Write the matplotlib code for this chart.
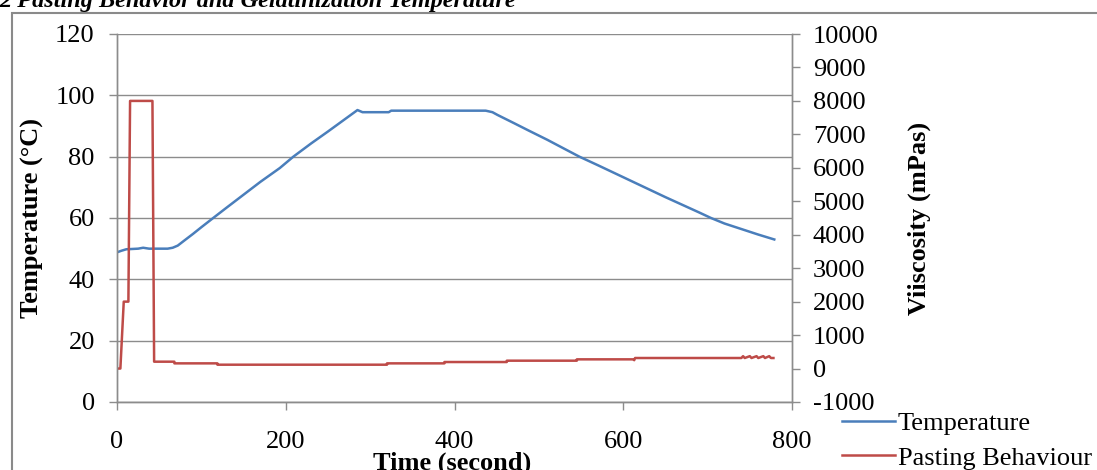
import matplotlib
matplotlib.use('Agg')
import matplotlib.pyplot as plt
from matplotlib.patches import Rectangle

plt.rcParams['font.family'] = ['Liberation Serif', 'DejaVu Serif']
plt.rcParams['axes.unicode_minus'] = False

# temperature profile (s, degC)
temp_time = [0, 5, 11, 25, 31, 38, 60, 66, 72, 80, 90, 100, 114, 130, 150, 170,
             193, 209, 230, 250, 270, 285, 291, 322, 325, 437, 445, 451, 470,
             488, 510, 530, 548, 570, 590, 610, 630, 650, 670, 690, 704, 720,
             740, 760, 779]
temp_vals = [48.8, 49.3, 49.8, 50.0, 50.3, 50.0, 50.0, 50.3, 51.0, 52.7, 54.8,
             57.0, 60.0, 63.4, 67.6, 71.8, 76.3, 80.0, 84.3, 88.2, 92.2, 95.2,
             94.5, 94.5, 95.0, 95.0, 94.5, 93.6, 91.0, 88.5, 85.5, 82.6, 80.0,
             77.2, 74.6, 72.0, 69.4, 66.8, 64.3, 61.8, 60.0, 58.2, 56.4, 54.6,
             53.0]

# viscosity (s, mPas)
visc_time = [0, 4, 8, 13.5, 15.5, 42, 44, 68, 68, 119, 119, 320, 320, 388, 388,
             462, 462, 545, 545, 612, 613, 614, 740, 742, 744, 750, 752, 758,
             760, 766, 768, 773, 775, 778]
visc_vals = [0, 0, 2000, 2000, 8000, 8000, 205, 205, 155, 155, 115, 115, 155,
             155, 195, 195, 235, 235, 275, 275, 250, 315, 315, 370, 315, 370,
             315, 370, 315, 370, 315, 370, 315, 315]

x_ticks = [0, 200, 400, 600, 800]
left_ticks = [0, 20, 40, 60, 80, 100, 120]
right_ticks = list(range(-1000, 10001, 1000))

W, H = 1097, 470
fig = plt.figure(figsize=(W / 100, H / 100), dpi=100)
ax = fig.add_axes([117 / W, 1 - 402 / H, (792 - 117) / W, (402 - 34) / H])
ax2 = ax.twinx()

blue = '#4a7ebb'
red = '#be4b48'
grey = '#8c8c8c'
fs = 19

l1, = ax.plot(temp_time, temp_vals, color=blue, lw=1.8, label='Temperature')
l2, = ax2.plot(visc_time, visc_vals, color=red, lw=1.8, label='Pasting Behaviour')

ax.set_xlim(0, 800)
ax.set_ylim(0, 120)
ax2.set_ylim(-1000, 10000)
ax.set_xticks(x_ticks)
ax.set_yticks(left_ticks)
ax2.set_yticks(right_ticks)

ax.grid(axis='y', color=grey, lw=1.0)
ax.set_axisbelow(True)
for a in (ax, ax2):
    a.spines['top'].set_visible(False)
    for s in ('left', 'bottom', 'right'):
        a.spines[s].set_color(grey)
        a.spines[s].set_linewidth(1.0)
ax.tick_params(axis='x', direction='out', length=6, width=1, color=grey,
               pad=15, labelsize=fs)
ax.tick_params(axis='y', direction='out', length=6, width=1, color=grey,
               pad=10, labelsize=fs)
ax2.tick_params(axis='y', direction='out', length=6, width=1, color=grey,
                pad=9, labelsize=fs)

fig.text(32 / W, 1 - 218 / H, 'Temperature (°C)', rotation=90, ha='center',
         va='center', fontsize=fs, fontweight='bold')
fig.text(919 / W, 1 - 218 / H, 'Viiscosity (mPas)', rotation=90, ha='center',
         va='center', fontsize=fs, fontweight='bold')
fig.text(452 / W, 1 - 452 / H, 'Time (second)', ha='center', va='top',
         fontsize=fs, fontweight='bold')

fig.text(-1 / W, 1 - 7 / H, '2 Pasting Behavior and Gelatinization Temperature',
         ha='left', va='baseline', fontsize=17.5, fontweight='bold',
         style='italic')

fig.legend([l1, l2], ['Temperature', 'Pasting Behaviour'], loc='upper left',
           bbox_to_anchor=(842 / W, 1 - 412 / H), frameon=False, fontsize=fs,
           handlelength=2.0, handletextpad=0.12, labelspacing=0.4,
           borderpad=0, borderaxespad=0)

fig.patches.append(Rectangle((12 / W, -0.1), 1.0, 1.1 - 13 / H,
                             transform=fig.transFigure, fill=False,
                             ec='#8a8a8a', lw=1.5))

plt.savefig('out.png', dpi=100)
